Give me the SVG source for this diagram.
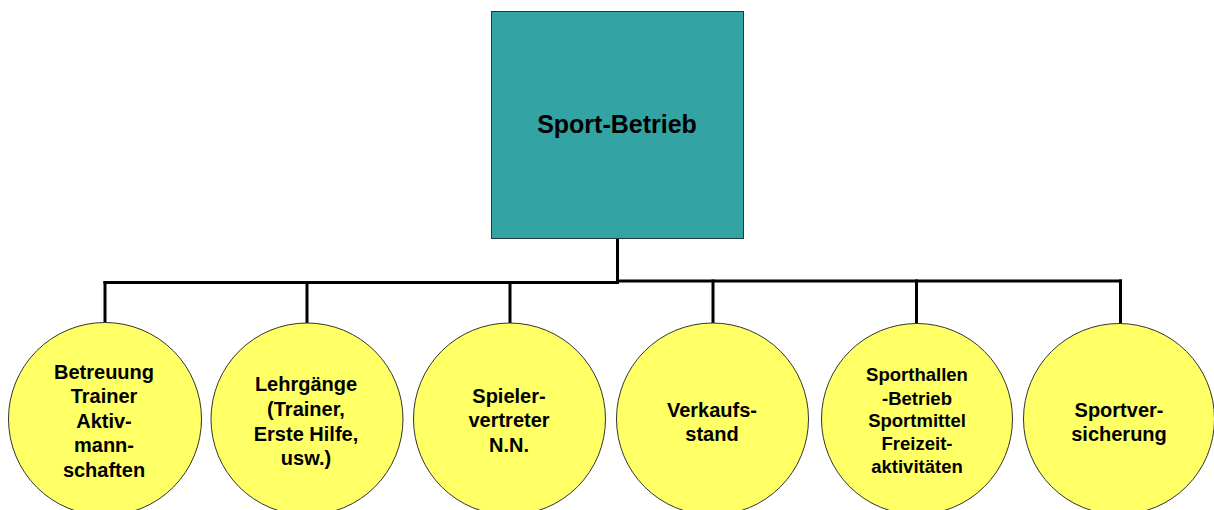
<svg xmlns="http://www.w3.org/2000/svg" width="1214" height="510" viewBox="0 0 1214 510">
<style>
.box{fill:#33A3A3;stroke:#1f3a3a;stroke-width:1}
.circ{fill:#FFFF66;stroke:#333333;stroke-width:1}
.conn{stroke:#000;stroke-width:3;fill:none;stroke-linecap:square}
text{font-family:"Liberation Sans",Arial,sans-serif;font-weight:bold;fill:#000;text-anchor:middle}
.t{font-size:20px}
.s{font-size:18.5px}
.h{font-size:25px}
</style>
<rect width="1214" height="510" fill="#fff"/>
<g id="connectors">
<path class="conn" d="M617.5 238.5 V282.5"/>
<path class="conn" d="M105 282.5 H617.5"/>
<path class="conn" d="M617.5 281 H1120.5"/>
<path class="conn" d="M105 282.5 V322"/>
<path class="conn" d="M307 282.5 V322"/>
<path class="conn" d="M510 282.5 V322"/>
<path class="conn" d="M713 281 V322"/>
<path class="conn" d="M916.5 281 V322"/>
<path class="conn" d="M1120.5 281 V322"/>
</g>
<g id="sport-betrieb">
<rect class="box" x="491.5" y="11.5" width="252" height="227"/>
<text class="h" x="617" y="133">Sport-Betrieb</text>
</g>
<g id="betreuung">
<circle class="circ" cx="105" cy="419" r="96.5"/>
<text class="t" x="104" y="379">Betreuung</text>
<text class="t" x="104" y="403">Trainer</text>
<text class="t" x="104" y="428">Aktiv-</text>
<text class="t" x="104" y="452">mann-</text>
<text class="t" x="104" y="477">schaften</text>
</g>
<g id="lehrgaenge">
<circle class="circ" cx="307" cy="419" r="96"/>
<text class="t" x="306" y="391">Lehrgänge</text>
<text class="t" x="306" y="416">(Trainer,</text>
<text class="t" x="306" y="441">Erste Hilfe,</text>
<text class="t" x="306" y="465">usw.)</text>
</g>
<g id="spielervertreter">
<circle class="circ" cx="509.5" cy="419" r="96"/>
<text class="t" x="509" y="403">Spieler-</text>
<text class="t" x="509" y="427">vertreter</text>
<text class="t" x="509" y="452">N.N.</text>
</g>
<g id="verkaufsstand">
<circle class="circ" cx="712.5" cy="419" r="96"/>
<text class="t" x="712" y="417">Verkaufs-</text>
<text class="t" x="712" y="441">stand</text>
</g>
<g id="sporthallen">
<circle class="circ" cx="917" cy="419" r="95.5"/>
<text class="s" x="917" y="381">Sporthallen</text>
<text class="s" x="917" y="405">-Betrieb</text>
<text class="s" x="917" y="427">Sportmittel</text>
<text class="s" x="917" y="450">Freizeit-</text>
<text class="s" x="917" y="473">aktivitäten</text>
</g>
<g id="sportversicherung">
<circle class="circ" cx="1119" cy="419" r="95.5"/>
<text class="t" x="1119" y="417">Sportver-</text>
<text class="t" x="1119" y="441">sicherung</text>
</g>
</svg>
